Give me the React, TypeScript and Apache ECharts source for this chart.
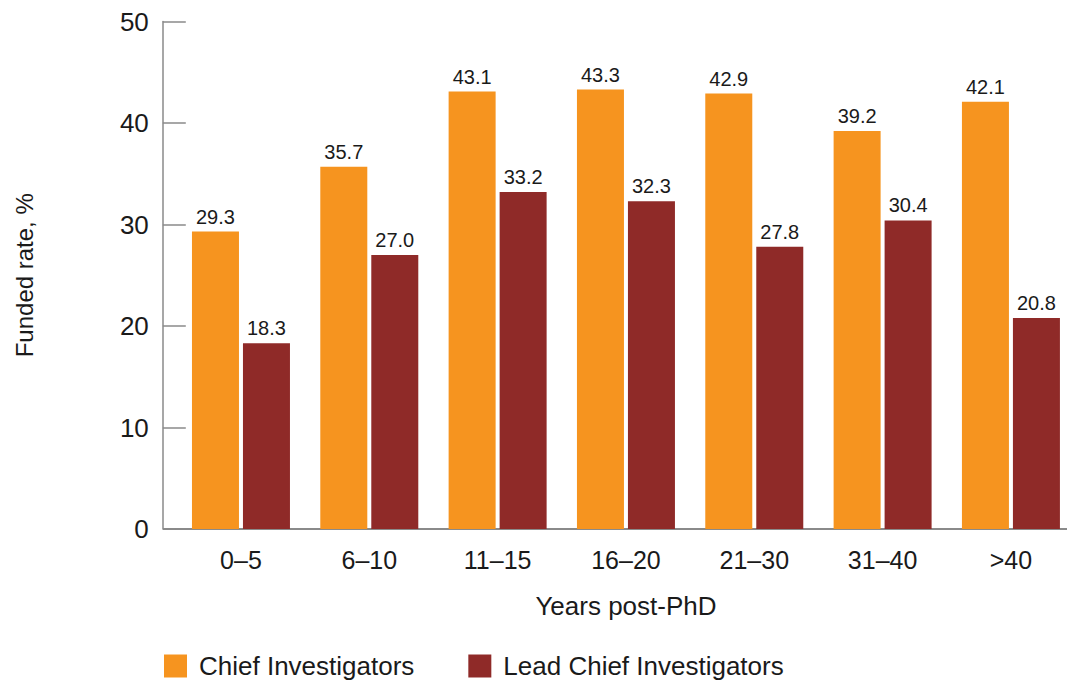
import React, { useEffect, useRef } from "react";
import * as echarts from "echarts";

const categories = ["0–5", "6–10", "11–15", "16–20", "21–30", "31–40", ">40"];
const chiefInvestigators = [29.3, 35.7, 43.1, 43.3, 42.9, 39.2, 42.1];
const leadChiefInvestigators = [18.3, 27.0, 33.2, 32.3, 27.8, 30.4, 20.8];
const yTicks = { min: 0, max: 50, interval: 10 };

const ORANGE = "#F6941F";
const RED = "#8F2A28";
const AXIS = "#8A8A8A";
const ARIAL = "'Liberation Sans', Arial, sans-serif";

export default function App() {
  const ref = useRef<HTMLDivElement>(null);
  useEffect(() => {
    if (!ref.current) return;
    document.body.style.margin = "0";
    document.body.style.overflow = "hidden";
    const chart = echarts.init(ref.current, undefined, { renderer: "svg" });
    const label = {
      show: true,
      position: "top" as const,
      distance: 5,
      color: "#1a1a1a",
      fontFamily: ARIAL,
      fontSize: 20,
      formatter: (p: any) => Number(p.value).toFixed(1),
    };
    chart.setOption({
      animation: false,
      backgroundColor: "#fff",
      textStyle: { fontFamily: ARIAL },
      grid: { left: 176.8, right: 4.9, top: 21.5, bottom: 153, containLabel: false },
      legend: {
        left: 159,
        top: 648,
        itemWidth: 23,
        itemHeight: 23,
        itemGap: 54,
        icon: "rect",
        textStyle: { fontFamily: ARIAL, fontSize: 26, color: "#1a1a1a", padding: [0, 0, 0, 7] },
        data: ["Chief Investigators", "Lead Chief Investigators"],
      },
      xAxis: {
        type: "category",
        data: categories,
        axisLine: { show: true, lineStyle: { color: AXIS, width: 2 } },
        axisTick: { show: false },
        axisLabel: { color: "#1a1a1a", fontFamily: ARIAL, fontSize: 25, margin: 18 },
        name: "Years post-PhD",
        nameLocation: "middle",
        nameGap: 64,
        nameTextStyle: { color: "#1a1a1a", fontFamily: ARIAL, fontSize: 26 },
      },
      yAxis: {
        type: "value",
        min: yTicks.min,
        max: yTicks.max,
        interval: yTicks.interval,
        offset: 14,
        splitLine: { show: false },
        axisLine: { show: true, lineStyle: { color: AXIS, width: 1.5 } },
        axisTick: { show: true, inside: true, length: 23, lineStyle: { color: AXIS, width: 1.5 } },
        axisLabel: { color: "#1a1a1a", fontFamily: ARIAL, fontSize: 26, margin: 14 },
        name: "Funded rate, %",
        nameLocation: "middle",
        nameGap: 126,
        nameRotate: 90,
        nameTextStyle: { color: "#1a1a1a", fontFamily: ARIAL, fontSize: 24 },
      },
      graphic: [
        {
          type: "line",
          shape: { x1: 163, y1: 529, x2: 178, y2: 529 },
          style: { stroke: AXIS, lineWidth: 2 },
        },
      ],
      series: [
        {
          name: "Chief Investigators",
          type: "bar",
          data: chiefInvestigators,
          barWidth: 47,
          barGap: "8.5%",
          itemStyle: { color: ORANGE },
          label,
        },
        {
          name: "Lead Chief Investigators",
          type: "bar",
          data: leadChiefInvestigators,
          barWidth: 47,
          barGap: "8.5%",
          itemStyle: { color: RED },
          label,
        },
      ],
    });
    return () => chart.dispose();
  }, []);
  return (
    <div
      ref={ref}
      style={{ position: "absolute", left: 0, top: 0, width: 1080, height: 682 }}
    />
  );
}
